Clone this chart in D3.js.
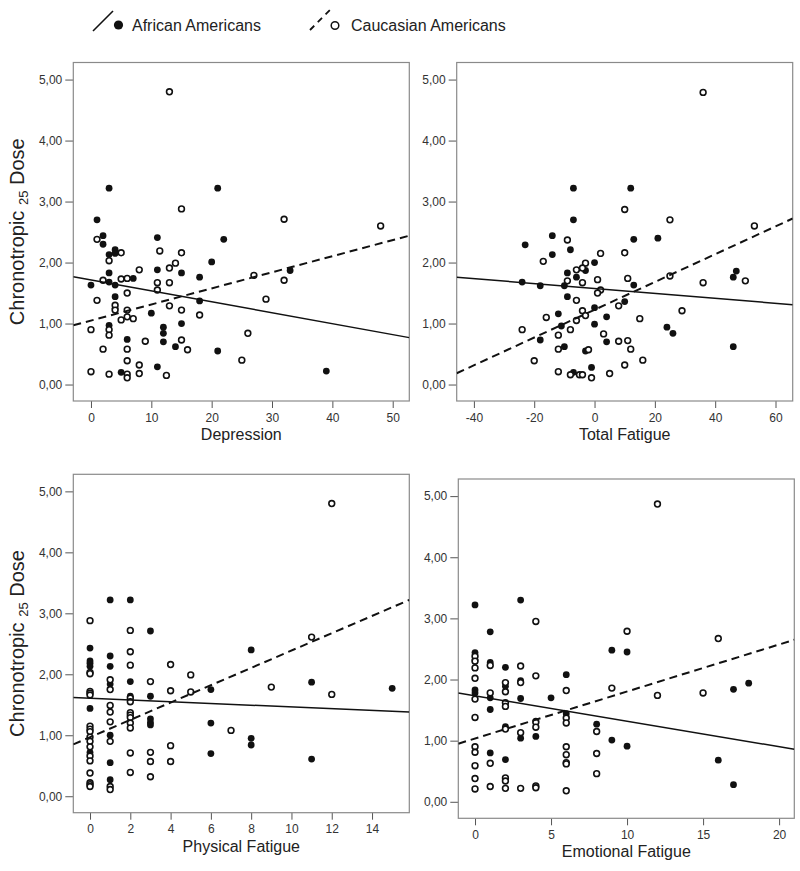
<!DOCTYPE html>
<html>
<head>
<meta charset="utf-8">
<script src="https://cdn.jsdelivr.net/npm/d3@7"></script>
<style>
  body { margin: 0; background: #fff; }
  svg { font-family: "Liberation Sans", Arial, sans-serif; }
  .tick text { fill: #333; font-size: 12px; }
  .tick line { stroke: #555; }
  .domain { display: none; }
</style>
</head>
<body>
<div id="chart"></div>
<script>
// values: [x, dose]
const depressionAA = [[3,3.22],[21,3.22],[1,2.70],[2,2.44],[2,2.30],[11,2.41],[22,2.38],[4,2.21],[3,2.13],[4,2.15],[20,2.01],[11,1.88],[3,1.83],[15,1.83],[18,1.76],[7,1.74],[0,1.63],[3,1.68],[4,1.63],[4,1.44],[18,1.37],[4,1.25],[10,1.17],[3,0.97],[15,1.00],[12,0.94],[12,0.84],[6,0.74],[12,0.70],[14,0.62],[21,0.55],[11,0.29],[5,0.20],[33,1.87],[39,0.22]];
const depressionCA = [[13,4.80],[15,2.88],[1,2.38],[5,2.16],[11.4,2.19],[15,2.16],[3,2.03],[14,1.99],[13,1.91],[8,1.88],[27,1.79],[2,1.71],[5,1.73],[6,1.74],[11,1.67],[13,1.67],[6,1.50],[11,1.55],[1,1.38],[4,1.30],[13,1.29],[4,1.22],[6,1.22],[15,1.22],[6,1.11],[7,1.08],[5,1.06],[18,1.14],[0,0.90],[3,0.90],[3,0.81],[26,0.84],[9,0.71],[15,0.73],[2,0.58],[6,0.58],[16,0.57],[6,0.39],[25,0.40],[8,0.32],[0,0.21],[3,0.17],[6,0.17],[8,0.18],[6,0.11],[12.5,0.15],[32,2.71],[48,2.60],[32,1.71],[29,1.40]];

const totalAA = [[-7,3.22],[-7,2.70],[-14,2.44],[-23,2.29],[-8,2.21],[-14,2.13],[0,2.00],[-9,1.83],[-3,1.87],[-6,1.76],[-24,1.68],[-18,1.62],[-10,1.62],[-9,1.44],[0,1.26],[-12,1.16],[4,1.11],[0,0.99],[-11,0.96],[-18,0.73],[4,0.70],[-10,0.62],[-3,0.55],[-1,0.28],[-7,0.20],[12,3.22],[13,2.38],[21,2.40],[47,1.86],[46,1.76],[13,1.63],[10,1.36],[24,0.94],[26,0.84],[46,0.62]];
const totalCA = [[-9,2.37],[2,2.15],[-17,2.02],[-3,1.99],[-6,1.88],[-4,1.91],[-9,1.70],[1,1.72],[-4,1.67],[2,1.55],[1,1.50],[-6,1.38],[-4,1.21],[-3,1.13],[-16,1.10],[-6,1.05],[-24,0.90],[-8,0.90],[-12,0.81],[3,0.83],[-12,0.58],[-2,0.57],[-20,0.39],[-12,0.21],[-8,0.16],[-5,0.16],[-4,0.16],[5,0.18],[-1,0.11],[36,4.79],[10,2.87],[25,2.70],[53,2.60],[10,2.16],[11,1.74],[25,1.78],[50,1.70],[36,1.67],[8,1.29],[29,1.21],[15,1.08],[8,0.71],[11,0.72],[12,0.58],[16,0.40],[10,0.32]];

const physicalAA = [[0,2.43],[0,2.22],[0,2.18],[0,2.13],[0,1.44],[0,0.72],[1,3.22],[1,2.30],[1,2.13],[1,1.84],[1,1.00],[1,0.55],[1,0.27],[2,3.22],[2,1.88],[2,1.64],[3,2.71],[3,1.64],[3,1.27],[3,1.21],[3,1.17],[6,1.75],[6,1.20],[6,0.70],[8,2.40],[8,0.95],[8,0.84],[11,1.87],[11,0.61],[15,1.77]];
const physicalCA = [[0,2.88],[0,2.03],[0,2.01],[0,1.72],[0,1.69],[0,1.66],[0,1.15],[0,1.10],[0,1.06],[0,0.97],[0,0.90],[0,0.81],[0,0.66],[0,0.58],[0,0.38],[0,0.22],[0,0.19],[0,0.16],[1,1.91],[1,1.75],[1,1.49],[1,1.38],[1,1.22],[1,0.90],[1,0.16],[1,0.11],[2,2.72],[2,2.37],[2,2.15],[2,1.61],[2,1.55],[2,1.37],[2,1.33],[2,1.29],[2,1.20],[2,1.12],[2,0.71],[2,0.39],[3,1.88],[3,0.72],[3,0.57],[3,0.32],[4,2.16],[4,1.73],[4,0.83],[4,0.57],[5,1.99],[5,1.71],[7,1.08],[9,1.79],[11,2.61],[12,4.80],[12,1.67]];

const emotionalAA = [[0,3.22],[0,2.44],[0,2.32],[0,1.83],[0,1.78],[1,2.78],[1,2.28],[1,1.70],[1,1.51],[1,0.80],[2,2.20],[2,1.89],[2,1.23],[2,0.69],[3,3.30],[3,1.98],[3,1.69],[3,1.04],[4,1.32],[4,1.07],[5,1.70],[6,2.08],[6,1.44],[8,1.27],[9,2.48],[10,2.45],[9,1.01],[10,0.91],[16,0.68],[17,1.84],[18,1.94],[17,0.28]];
const emotionalCA = [[0,2.38],[0,2.30],[0,2.19],[0,2.02],[0,1.68],[0,1.38],[0,0.90],[0,0.81],[0,0.59],[0,0.38],[0,0.21],[1,2.23],[1,1.78],[1,0.63],[1,0.25],[2,1.95],[2,1.80],[2,1.62],[2,1.56],[2,1.19],[2,0.39],[2,0.34],[2,0.22],[3,2.22],[3,1.95],[3,1.13],[3,0.22],[4,2.95],[4,2.06],[4,1.30],[4,1.22],[4,0.26],[4,0.23],[6,1.82],[6,1.37],[6,1.29],[6,0.90],[6,0.77],[6,0.64],[6,0.62],[6,0.18],[8,1.15],[8,0.79],[8,0.46],[12,4.87],[10,2.79],[16,2.67],[9,1.86],[12,1.74],[15,1.78]];

// fit lines: [intercept, slope]
const depressionFitAA = [1.716, -0.01795], depressionFitCA = [1.049, 0.02639];
const totalFitAA = [1.575, -0.00404], totalFitCA = [1.226, 0.02277];
const physicalFitAA = [1.608, -0.01439], physicalFitCA = [0.968, 0.1421];
const emotionalFitAA = [1.734, -0.04163], emotionalFitCA = [1.035, 0.0769];

// tick labels
const yTicks = [0, 1, 2, 3, 4, 5];
const depressionTicks = [0, 10, 20, 30, 40, 50];
const totalTicks = [-40, -20, 0, 20, 40, 60];
const physicalTicks = [0, 2, 4, 6, 8, 10, 12, 14];
const emotionalTicks = [0, 5, 10, 15, 20];

const panels = [
  {title: "Depression", aa: depressionAA, ca: depressionCA, fitAA: depressionFitAA, fitCA: depressionFitCA,
   ticks: depressionTicks, xDom: [-2.93, 52.75], box: [73.3, 62.5, 409.3, 401], yTitle: true},
  {title: "Total Fatigue", aa: totalAA, ca: totalCA, fitAA: totalFitAA, fitCA: totalFitCA,
   ticks: totalTicks, xDom: [-45.7, 65.7], box: [456.7, 62.5, 792.7, 401], yTitle: false},
  {title: "Physical Fatigue", aa: physicalAA, ca: physicalCA, fitAA: physicalFitAA, fitCA: physicalFitCA,
   ticks: physicalTicks, xDom: [-0.83, 15.85], box: [73.3, 474.3, 409.3, 812.7], yTitle: true},
  {title: "Emotional Fatigue", aa: emotionalAA, ca: emotionalCA, fitAA: emotionalFitAA, fitCA: emotionalFitCA,
   ticks: emotionalTicks, xDom: [-1.1, 21.0], box: [458.3, 479, 794.3, 818.3], yTitle: false}
];

const svg = d3.select("#chart").append("svg")
  .attr("width", 800)
  .attr("height", 871);

const comma = d3.formatLocale({decimal: ",", thousands: ".", grouping: [3], currency: ["", ""]}).format(".2f");

panels.forEach((p, i) => {
  let [x0, y0, x1, y1] = p.box;
  let x = d3.scaleLinear().domain(p.xDom).range([x0, x1]);
  let y = d3.scaleLinear().domain([-0.27, 5.28]).range([y1, y0]);

  let g = svg.append("g");

  g.append("clipPath").attr("id", "clip" + i)
    .append("rect")
    .attr("x", x0).attr("y", y0)
    .attr("width", x1 - x0).attr("height", y1 - y0);

  // axes
  g.append("g")
    .attr("transform", "translate(0," + y1 + ")")
    .call(d3.axisBottom(x).tickValues(p.ticks).tickSize(7).tickPadding(5).tickFormat(d => String(d)));

  g.append("g")
    .attr("transform", "translate(" + x0 + ",0)")
    .call(d3.axisLeft(y).tickValues(yTicks).tickSize(8).tickPadding(3).tickFormat(comma));

  // frame
  g.append("rect")
    .attr("x", x0).attr("y", y0)
    .attr("width", x1 - x0).attr("height", y1 - y0)
    .attr("fill", "none")
    .attr("stroke", "#8a8a8a")
    .attr("stroke-width", 1.2);

  let plot = g.append("g").attr("clip-path", "url(#clip" + i + ")");

  // points
  plot.selectAll(".aa")
    .data(p.aa)
    .enter().append("circle")
    .attr("class", "aa")
    .attr("cx", d => x(d[0]))
    .attr("cy", d => y(d[1]))
    .attr("r", 3.4)
    .attr("fill", "#111");

  plot.selectAll(".ca")
    .data(p.ca)
    .enter().append("circle")
    .attr("class", "ca")
    .attr("cx", d => x(d[0]))
    .attr("cy", d => y(d[1]))
    .attr("r", 2.9)
    .attr("fill", "#fff")
    .attr("stroke", "#111")
    .attr("stroke-width", 1.6);

  // fit lines across the whole x range
  let fitPath = f => p.xDom.map(v => [x(v), y(f[0] + f[1] * v)]);

  plot.append("path")
    .attr("d", d3.line()(fitPath(p.fitAA)))
    .attr("stroke", "#111")
    .attr("stroke-width", 1.5)
    .attr("fill", "none");

  plot.append("path")
    .attr("d", d3.line()(fitPath(p.fitCA)))
    .attr("stroke", "#111")
    .attr("stroke-width", 2)
    .attr("stroke-dasharray", "8,5")
    .attr("fill", "none");

  // x title
  g.append("text")
    .attr("x", (x0 + x1) / 2)
    .attr("y", y1 + 39)
    .attr("text-anchor", "middle")
    .attr("font-size", 16)
    .attr("fill", "#222")
    .text(p.title);

  // y title
  if (p.yTitle) {
    let t = g.append("text")
      .attr("transform", "translate(24," + ((y0 + y1) / 2) + ") rotate(-90)")
      .attr("text-anchor", "middle")
      .attr("font-size", 20)
      .attr("fill", "#222");
    t.append("tspan").text("Chronotropic ");
    t.append("tspan").attr("font-size", 13).attr("dy", 4).text("25");
    t.append("tspan").attr("dy", -4).text(" Dose");
  }
});

// legend
let legend = svg.append("g");
legend.append("line")
  .attr("x1", 93).attr("y1", 31).attr("x2", 113).attr("y2", 11)
  .attr("stroke", "#111").attr("stroke-width", 1.6);
legend.append("circle")
  .attr("cx", 118.5).attr("cy", 25).attr("r", 4.6).attr("fill", "#111");
legend.append("text")
  .attr("x", 132).attr("y", 31)
  .attr("font-size", 16).attr("fill", "#222")
  .text("African Americans");

legend.append("line")
  .attr("x1", 310).attr("y1", 30).attr("x2", 330).attr("y2", 10)
  .attr("stroke", "#111").attr("stroke-width", 1.8)
  .attr("stroke-dasharray", "6,5");
legend.append("circle")
  .attr("cx", 335).attr("cy", 25.5).attr("r", 3.8)
  .attr("fill", "#fff").attr("stroke", "#111").attr("stroke-width", 1.5);
legend.append("text")
  .attr("x", 351).attr("y", 31)
  .attr("font-size", 16).attr("fill", "#222")
  .text("Caucasian Americans");
</script>
</body>
</html>
